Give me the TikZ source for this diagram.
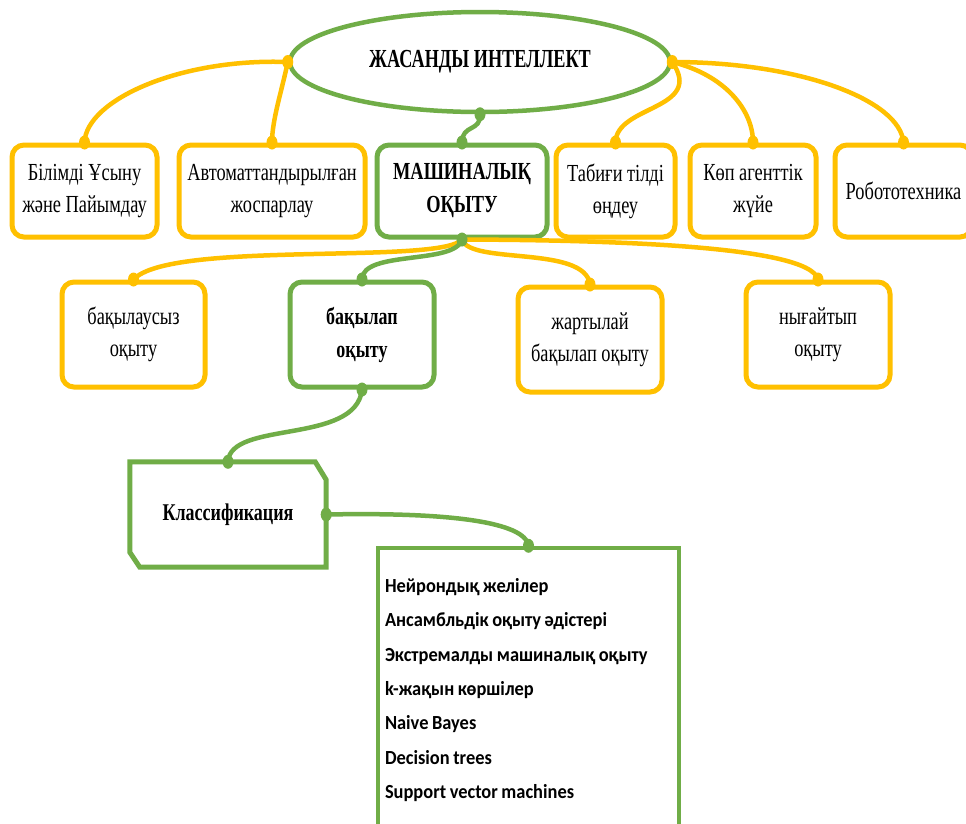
\documentclass[tikz,border=0pt]{standalone}
\usepackage{fontspec}
\setmainfont[FakeStretch=0.75]{Liberation Serif}
\newfontfamily\titlefont[FakeStretch=0.7]{Liberation Serif}
\newfontfamily\calib[FakeStretch=0.92]{Carlito}
\usetikzlibrary{shapes.geometric}
\definecolor{gold}{HTML}{FFC000}
\definecolor{leaf}{HTML}{70AD47}
\tikzset{
  ybox/.style={draw=gold, line width=5pt, rounded corners=12pt, fill=white, inner sep=0pt, align=center,
    font=\fontsize{24.5}{32}\selectfont},
  gbox/.style={ybox, draw=leaf},
  ylink/.style={draw=gold, line width=4.5pt, line cap=round},
  glink/.style={draw=leaf, line width=4.5pt, line cap=round},
}
\begin{document}
\begin{tikzpicture}[x=1pt,y=-1pt]
\useasboundingbox[fill=white] (0,0) rectangle (966,823);

% root ellipse
\node[ellipse, draw=leaf, line width=4.5pt, minimum width=380pt, minimum height=100pt, inner sep=0pt,
  font=\titlefont\bfseries\fontsize{26}{30}\selectfont] (ai) at (480,62) {ЖАСАНДЫ ИНТЕЛЛЕКТ};

% top row
\node[ybox, minimum width=145pt, minimum height=92pt] (b1) at (84.5,191) {Білімді Ұсыну\\және Пайымдау};
\node[ybox, minimum width=186pt, minimum height=92pt] (b2) at (272,191) {Автоматтандырылған\\жоспарлау};
\node[gbox, minimum width=170pt, minimum height=92pt, font=\bfseries\fontsize{24.5}{33}\selectfont] (b3) at (462,191) {МАШИНАЛЫҚ\\ОҚЫТУ};
\node[ybox, minimum width=119pt, minimum height=92pt] (b4) at (615.5,191) {Табиғи тілді\\өңдеу};
\node[ybox, minimum width=126pt, minimum height=92pt] (b5) at (753,191) {Көп агенттік\\жүйе};
\node[ybox, minimum width=137pt, minimum height=92pt] (b6) at (903.5,191) {Робототехника};

% second row
\node[ybox, minimum width=143pt, minimum height=105pt] (c1) at (133.5,334.5) {бақылаусыз\\оқыту};
\node[gbox, minimum width=144pt, minimum height=105pt, font=\bfseries\fontsize{24}{33}\selectfont] (c2) at (362,334.5) {бақылап\\оқыту};
\node[ybox, minimum width=144pt, minimum height=105pt] (c3) at (590,339.5) {жартылай\\бақылап оқыту};
\node[ybox, minimum width=144pt, minimum height=105pt] (c4) at (818,334.5) {нығайтып\\оқыту};

% classification
\node[minimum width=196pt, minimum height=105pt, inner sep=0pt, font=\bfseries\fontsize{24}{30}\selectfont] (cls) at (228,514.5) {Классификация};
\draw[leaf, line width=5pt, line join=miter]
  (cls.north west) -- ([xshift=-11pt]cls.north east) -- ([yshift=-18pt]cls.north east)
  -- (cls.south east) -- ([xshift=10pt]cls.south west) -- ([yshift=15pt]cls.south west) -- cycle;

% list
\node[draw=leaf, line width=4.5pt, text width=287pt, inner xsep=7pt, inner ysep=0pt, minimum height=284pt, align=left,
  font=\calib\bfseries\fontsize{20}{34.3}\selectfont] (lst) at (528.5,690)
  {\spaceskip=3.6pt Нейрондық желілер\\Ансамбльдік оқыту әдістері\\Экстремалды машиналық оқыту\\k-жақын көршілер\\Naive Bayes\\Decision trees\\Support vector machines};

% links top
\path[ylink] (ai.west) .. controls (180,58) and (86,100) .. (b1.north);
\path[ylink] (ai.west) .. controls (282,90) and (272,120) .. (b2.north);
\path[glink] (ai.south) .. controls (481,132) and (462,124) .. (b3.north);
\path[ylink] (ai.east) .. controls (705,110) and (616,105) .. (b4.north);
\path[ylink] (ai.east) .. controls (725,75) and (753,110) .. (b5.north);
\path[ylink] (ai.east) .. controls (800,62) and (900,100) .. (b6.north);

% links second
\path[ylink] (b3.south) .. controls (440,265) and (170,240) .. (c1.north);
\path[glink] (b3.south) .. controls (455,265) and (362,250) .. (c2.north);
\path[ylink] (b3.south) .. controls (470,265) and (585,245) .. (c3.north);
\path[ylink] (b3.south) .. controls (600,240) and (810,245) .. (c4.north);

% links lower
\path[glink] (c2.south) .. controls (356,445) and (230,420) .. (cls.north);
\path[glink] (cls.east) .. controls (450,512) and (525,522) .. (lst.north);

% dots
\foreach \p in {ai.west, ai.east, b1.north, b2.north, b4.north, b5.north, b6.north, c1.north, c3.north, c4.north}
  \fill[gold] (\p) ellipse [x radius=5.5pt, y radius=7pt];
\foreach \p in {ai.south, b3.north, b3.south, c2.north, c2.south, cls.north, cls.east, lst.north}
  \fill[leaf] (\p) ellipse [x radius=5.5pt, y radius=7pt];
\end{tikzpicture}
\end{document}
